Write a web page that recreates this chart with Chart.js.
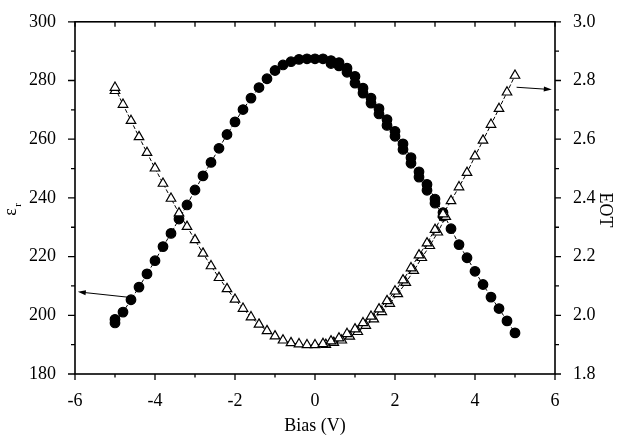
<!DOCTYPE html>
<html>
<head>
<meta charset="utf-8">
<script src="https://cdn.jsdelivr.net/npm/chart.js@4"></script>
<style>
  body { margin: 0; background: #fff; }
</style>
</head>
<body>
<canvas id="biasChart" width="618" height="440"></canvas>
<script>
// Bias sweep, -5 V to 5 V
const bias = [-5, -4.8, -4.6, -4.4, -4.2, -4, -3.8, -3.6, -3.4, -3.2, -3, -2.8, -2.6, -2.4, -2.2, -2,
  -1.8, -1.6, -1.4, -1.2, -1, -0.8, -0.6, -0.4, -0.2, 0, 0.2, 0.4, 0.6, 0.8, 1, 1.2, 1.4, 1.6, 1.8,
  2, 2.2, 2.4, 2.6, 2.8, 3, 3.2, 3.4, 3.6, 3.8, 4, 4.2, 4.4, 4.6, 4.8, 5];

// dielectric constant, forward sweep
const epsForward = [197.4, 201.1, 205.3, 209.6, 214.1, 218.6, 223.4, 227.9, 232.8, 237.6, 242.7, 247.5,
  252.1, 256.9, 261.6, 265.9, 270.1, 274.0, 277.6, 280.6, 283.4, 285.3, 286.4, 287.2, 287.4, 287.4,
  287.4, 286.8, 286.1, 284.2, 281.4, 277.4, 274.0, 270.4, 266.7, 262.7, 258.4, 253.7, 248.9, 244.6,
  239.6, 235.0, 229.5, 224.1, 219.6, 215.0, 210.5, 206.2, 202.3, 198.1, 194.0];

// EOT (nm), forward sweep
const eotForward = [2.776, 2.718, 2.663, 2.608, 2.554, 2.501, 2.449, 2.398, 2.348, 2.302, 2.257, 2.211,
  2.168, 2.128, 2.090, 2.054, 2.023, 1.994, 1.969, 1.947, 1.929, 1.915, 1.906, 1.902, 1.899, 1.899,
  1.903, 1.912, 1.922, 1.937, 1.953, 1.974, 1.996, 2.021, 2.049, 2.082, 2.120, 2.161, 2.205, 2.246,
  2.292, 2.345, 2.390, 2.437, 2.486, 2.542, 2.596, 2.650, 2.704, 2.760, 2.817];

// return sweep, where it separates from the forward one
const biasBackEps = [0.4, 0.6, 0.8, 1, 1.2, 1.4, 1.6, 1.8, 2, 2.2, 2.4, 2.6, 2.8, 3, 3.2];
const epsBack = [285.8, 285.0, 282.8, 279.1, 275.7, 272.3, 268.6, 264.7, 261.0, 256.5, 251.8, 247.1,
  242.6, 238.2, 233.8];
const biasBackEot = [0.27, 0.47, 0.67, 0.87, 1.07, 1.27, 1.47, 1.67, 1.87, 2.07, 2.27, 2.47, 2.67,
  2.87, 3.07, 3.27];
const eotBack = [1.900, 1.907, 1.915, 1.928, 1.944, 1.965, 1.987, 2.012, 2.040, 2.073, 2.111, 2.152,
  2.196, 2.237, 2.283, 2.336];

// end point of the return sweep
const biasEnd = [-5];
const epsEnd = [198.6];
const eotEnd = [2.765];

// axis ticks
const xMajor = [-6, -4, -2, 0, 2, 4, 6];
const xMinor = [-5, -3, -1, 1, 3, 5];
const yMajor = [180, 200, 220, 240, 260, 280, 300];
const yMinor = [190, 210, 230, 250, 270, 290];
const y1Major = [1.8, 2.0, 2.2, 2.4, 2.6, 2.8, 3.0];
const y1Minor = [1.9, 2.1, 2.3, 2.5, 2.7, 2.9];

// pointer arrows: [tail, head] in data units
const arrowEpsX = [-4.63, -5.93];
const arrowEpsY = [206.1, 208.0];
const arrowEotX = [5.04, 5.92];
const arrowEotY = [2.777, 2.769];

const pts = (xs, ys) => xs.map((x, i) => ({ x: x, y: ys[i] }));

const lineStyle = {
  showLine: true,
  borderColor: '#000',
  borderWidth: 1,
  borderDash: [4, 2],
  pointBorderColor: '#000',
  pointBorderWidth: 1.2
};
const circle = { pointStyle: 'circle', pointRadius: 4.8, pointBackgroundColor: '#000', order: 2 };
const triangle = { pointStyle: 'triangle', pointRadius: 5.5, pointBackgroundColor: '#fff', order: 1 };

// box, tick marks, rotated axis titles and arrows
const decorations = {
  id: 'decorations',
  afterDraw(chart) {
    const { ctx, chartArea: a, scales } = chart;
    const x = scales.x, y = scales.y, y1 = scales.y1;
    ctx.save();
    ctx.strokeStyle = '#000';
    ctx.fillStyle = '#000';
    ctx.lineWidth = 1.6;
    ctx.strokeRect(a.left, a.top, a.right - a.left, a.bottom - a.top);

    ctx.lineWidth = 1.3;
    ctx.beginPath();
    xMajor.forEach(v => {
      const px = x.getPixelForValue(v);
      ctx.moveTo(px, a.bottom); ctx.lineTo(px, a.bottom + 6);
    });
    xMinor.forEach(v => {
      const px = x.getPixelForValue(v);
      ctx.moveTo(px, a.bottom); ctx.lineTo(px, a.bottom + 3.5);
    });
    xMajor.concat(xMinor).forEach(v => {
      const px = x.getPixelForValue(v);
      ctx.moveTo(px, a.top); ctx.lineTo(px, a.top + 5);
    });
    yMajor.forEach(v => {
      const py = y.getPixelForValue(v);
      ctx.moveTo(a.left, py); ctx.lineTo(a.left - 7, py);
    });
    yMinor.forEach(v => {
      const py = y.getPixelForValue(v);
      ctx.moveTo(a.left, py); ctx.lineTo(a.left - 4, py);
    });
    y1Major.forEach(v => {
      const py = y1.getPixelForValue(v);
      ctx.moveTo(a.right, py); ctx.lineTo(a.right + 6, py);
    });
    y1Minor.forEach(v => {
      const py = y1.getPixelForValue(v);
      ctx.moveTo(a.right, py); ctx.lineTo(a.right + 4, py);
    });
    ctx.stroke();

    // arrows
    const arrow = (xs, ys, scale) => {
      const x0 = x.getPixelForValue(xs[0]), y0 = scale.getPixelForValue(ys[0]);
      const x1 = x.getPixelForValue(xs[1]), y1p = scale.getPixelForValue(ys[1]);
      const ang = Math.atan2(y1p - y0, x1 - x0);
      ctx.lineWidth = 1;
      ctx.beginPath();
      ctx.moveTo(x0, y0);
      ctx.lineTo(x1 - 6 * Math.cos(ang), y1p - 6 * Math.sin(ang));
      ctx.stroke();
      ctx.beginPath();
      ctx.moveTo(x1, y1p);
      ctx.lineTo(x1 - 8 * Math.cos(ang) + 2.5 * Math.sin(ang), y1p - 8 * Math.sin(ang) - 2.5 * Math.cos(ang));
      ctx.lineTo(x1 - 8 * Math.cos(ang) - 2.5 * Math.sin(ang), y1p - 8 * Math.sin(ang) + 2.5 * Math.cos(ang));
      ctx.closePath();
      ctx.fill();
    };
    arrow(arrowEpsX, arrowEpsY, y);
    arrow(arrowEotX, arrowEotY, y1);

    // left title: epsilon with subscript r
    ctx.textBaseline = 'middle';
    ctx.textAlign = 'center';
    ctx.save();
    ctx.translate(11, 212);
    ctx.rotate(-Math.PI / 2);
    ctx.font = '18px "Liberation Serif"';
    ctx.fillText('ε', 0, 0);
    ctx.font = '11px "Liberation Serif"';
    ctx.fillText('r', 7, 7);
    ctx.restore();

    // right title
    ctx.save();
    ctx.translate(605, 210);
    ctx.rotate(Math.PI / 2);
    ctx.font = '18px "Liberation Serif"';
    ctx.fillText('EOT', 0, 0);
    ctx.restore();

    ctx.restore();
  }
};

Chart.defaults.font.family = '"Liberation Serif"';
Chart.defaults.font.size = 18;
Chart.defaults.color = '#000';

new Chart(document.getElementById('biasChart'), {
  type: 'scatter',
  data: {
    datasets: [
      Object.assign({ data: pts(bias, eotForward), yAxisID: 'y1' }, lineStyle, triangle),
      Object.assign({ data: pts(biasBackEot, eotBack), yAxisID: 'y1' }, lineStyle, triangle),
      Object.assign({ data: pts(biasEnd, eotEnd), yAxisID: 'y1' }, lineStyle, triangle),
      Object.assign({ data: pts(bias, epsForward), yAxisID: 'y' }, lineStyle, circle),
      Object.assign({ data: pts(biasBackEps, epsBack), yAxisID: 'y' }, lineStyle, circle),
      Object.assign({ data: pts(biasEnd, epsEnd), yAxisID: 'y' }, lineStyle, circle)
    ]
  },
  options: {
    responsive: false,
    animation: false,
    layout: { padding: { top: 20, left: 0, right: 0, bottom: 0 } },
    plugins: { legend: { display: false }, tooltip: { enabled: false } },
    scales: {
      x: {
        type: 'linear',
        min: -6, max: 6,
        grid: { display: false },
        border: { display: false },
        ticks: { stepSize: 2, padding: 8 },
        title: { display: true, text: 'Bias (V)', padding: { top: 0, bottom: 3 } },
        afterFit: s => { s.height = 66; }
      },
      y: {
        position: 'left',
        min: 180, max: 300,
        grid: { display: false },
        border: { display: false },
        ticks: { stepSize: 20, padding: 11 },
        afterFit: s => { s.width = 75; }
      },
      y1: {
        position: 'right',
        min: 1.8, max: 3.0,
        grid: { display: false },
        border: { display: false },
        ticks: { stepSize: 0.2, padding: 10, callback: v => v.toFixed(1) },
        afterFit: s => { s.width = 63; }
      }
    }
  },
  plugins: [decorations]
});
</script>
</body>
</html>
